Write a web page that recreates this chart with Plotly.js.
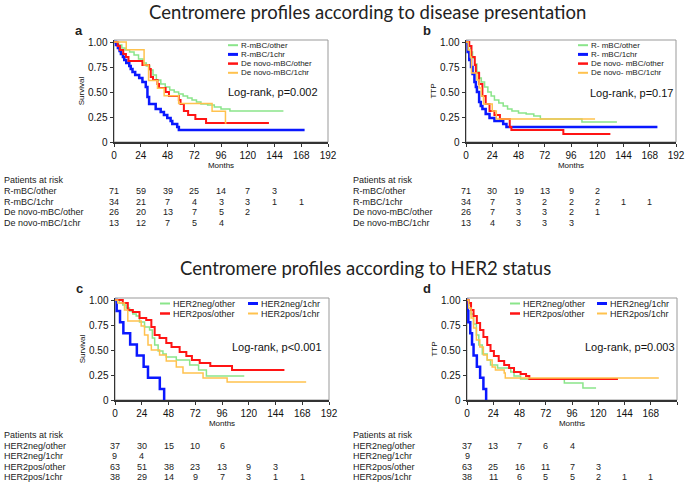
<!DOCTYPE html>
<html>
<head>
<meta charset="utf-8">
<script src="https://cdn.plot.ly/plotly-3.0.1.min.js"></script>
<style>body{margin:0;background:#fff}#graph{width:685px;height:495px}</style>
</head>
<body>
<div id="graph"></div>
<script>
// ---- data (months, survival) ----
// panel a: survival by disease presentation
const aOtherT = [0,4,7,10,14,18,22,26,29,32,35,38,42,46,50,54,58,62,66,70,74,78,84,90,96,104,152];
const aOtherS = [1,0.97,0.94,0.92,0.90,0.87,0.83,0.79,0.76,0.72,0.67,0.62,0.58,0.55,0.52,0.50,0.48,0.46,0.44,0.42,0.40,0.38,0.37,0.35,0.33,0.31,0.31];
const a1chrT = [0,1.8,3.5,5,6.2,8,9.2,11,13.7,15,16.6,19,22.6,25.5,28.5,30,31.5,37.4,41.9,44.8,47.8,50.8,52.3,56.7,58.2,171];
const a1chrS = [1,0.97,0.94,0.91,0.88,0.85,0.82,0.79,0.76,0.73,0.70,0.67,0.64,0.60,0.55,0.45,0.38,0.33,0.30,0.27,0.24,0.21,0.18,0.15,0.12,0.12];
const aNovoOtherT = [0,3.3,5.3,8.3,10.7,13,25.5,31.5,33,35,39,40.4,46.3,49.3,58.2,59.7,62.7,66.5,73,82.6,139];
const aNovoOtherS = [1,0.96,0.92,0.88,0.85,0.81,0.77,0.73,0.65,0.62,0.58,0.54,0.50,0.46,0.42,0.38,0.31,0.27,0.23,0.19,0.19];
const aNovo1chrT = [0,11,27,31,39,45,58,88,100,101];
const aNovo1chrS = [1,0.923,0.769,0.615,0.538,0.462,0.385,0.308,0.19,0.19];

// panel b: TTP by disease presentation
const bOtherT = [0,2,4,6,8,10,12,14,17,20,23,26,30,34,38,42,48,55,62,68,106,138];
const bOtherS = [1,0.96,0.90,0.84,0.78,0.70,0.64,0.60,0.55,0.50,0.46,0.42,0.39,0.36,0.33,0.31,0.29,0.28,0.26,0.23,0.20,0.20];
const b1chrT = [0,1.5,3,4.6,6,7.7,9,10,12,13.5,15,18,21.5,26,34,37,175];
const b1chrS = [1,0.90,0.82,0.75,0.68,0.60,0.55,0.50,0.40,0.36,0.33,0.28,0.24,0.21,0.18,0.15,0.15];
const bNovoOtherT = [0,3,5,8,9,12,15,18,21.5,26,31,40,41.5,89,132];
const bNovoOtherS = [1,0.96,0.85,0.77,0.69,0.58,0.46,0.38,0.31,0.27,0.23,0.15,0.12,0.08,0.08];
const bNovo1chrT = [0,2,4,5,10,12,14,16,24,27.7,118];
const bNovo1chrS = [1,0.92,0.85,0.69,0.62,0.54,0.46,0.38,0.31,0.23,0.23];

// panel c: survival by HER2 status
const cNegOtherT = [0,4,7,10,13,16,19,22,26.5,31,33.5,35.6,38.7,43,46,55,67,75,82,116];
const cNegOtherS = [1,0.97,0.95,0.92,0.89,0.86,0.84,0.78,0.73,0.70,0.62,0.55,0.49,0.46,0.43,0.40,0.35,0.30,0.24,0.24];
const cNeg1chrT = [0,1.5,4.5,7.5,13.6,19.6,25.7,29.6,40.2,44.1];
const cNeg1chrS = [1,0.889,0.778,0.667,0.556,0.444,0.333,0.222,0.111,0];
const cPosOtherT = [0,7,11.5,16,22,28,32.6,35.6,40,46,50.7,58,64,69,76,85.5,105,152];
const cPosOtherS = [1,0.97,0.90,0.88,0.82,0.80,0.73,0.65,0.62,0.57,0.53,0.48,0.44,0.40,0.37,0.34,0.30,0.30];
const cPos1chrT = [0,2.4,8.5,11.5,23.5,26.5,29.6,32.6,40,46,55,61,79,100.6,171.5];
const cPos1chrS = [1,0.97,0.90,0.79,0.74,0.65,0.55,0.50,0.45,0.39,0.33,0.27,0.22,0.18,0.18];

// panel d: TTP by HER2 status
const dNegOtherT = [0,1.5,3.7,6,8.6,10.8,14,18.5,21.5,28,40,43,49,89,106,118];
const dNegOtherS = [1,0.95,0.86,0.76,0.65,0.55,0.46,0.40,0.35,0.32,0.28,0.24,0.21,0.17,0.12,0.12];
const dNeg1chrT = [0,0.6,1.2,3,4.6,6,9,12,15,17.5];
const dNeg1chrS = [1,0.889,0.778,0.667,0.556,0.444,0.333,0.222,0.111,0];
const dPosOtherT = [0,1.5,3.7,6,9,12,15,18.5,21.5,24.6,29,34,38.5,43,49,54,57,138];
const dPosOtherS = [1,0.97,0.90,0.84,0.77,0.70,0.63,0.55,0.49,0.44,0.39,0.35,0.32,0.28,0.26,0.24,0.21,0.21];
const dPos1chrT = [0,1.5,3.7,6,8.6,11.7,15,18.5,23,26,34,35,175.4];
const dPos1chrS = [1,0.92,0.82,0.72,0.60,0.53,0.45,0.40,0.33,0.30,0.27,0.22,0.22];

// names
const topTableNames = ['R-mBC/other','R-mBC/1chr','De novo-mBC/other','De novo-mBC/1chr'];
const aLegendNames = ['R-mBC/other','R-mBC/1chr','De novo-mBC/other','De novo-mBC/1chr'];
const bLegendNames = ['R- mBC/other','R- mBC/1chr','De novo- mBC/other','De novo- mBC/1chr'];
const her2Names = ['HER2neg/other','HER2neg/1chr','HER2pos/other','HER2pos/1chr'];
const pValues = ['Log-rank, p=0.002','Log-rank, p=0.17','Log-rank, p<0.001','Log-rank, p=0.003'];

// patients at risk (every 24 months)
const riskA = [[71,59,39,25,14,7,3],[34,21,7,4,3,3,1,1],[26,20,13,7,5,2],[13,12,7,5,4]];
const riskB = [[71,30,19,13,9,2],[34,7,3,2,2,2,1,1],[26,7,3,3,2,1],[13,4,3,3,3]];
const riskC = [[37,30,15,10,6],[9,4],[63,51,38,23,13,9,3],[38,29,14,9,7,3,1,1]];
const riskD = [[37,13,7,6,4],[9],[63,25,16,11,7,3],[38,11,6,5,5,2,1,1]];

const monthTicks = [0,24,48,72,96,120,144,168,192];

// ---- styling ----
const W = 685, H = 495;
const px = x => x / W;
const py = y => 1 - y / H;
const colors = ['#8ae58a','#0a18ff','#ff1414','#ffc24e'];
const widths = [1.5, 2.5, 2, 1.5];
const ARIAL = 'Arial, "Liberation Sans", sans-serif';
const TITLEFONT = 'Lato, "Open Sans", sans-serif';

const panels = [
  {ax:'', curves:[[aOtherT,aOtherS],[a1chrT,a1chrS],[aNovoOtherT,aNovoOtherS],[aNovo1chrT,aNovo1chrS]]},
  {ax:'2', curves:[[bOtherT,bOtherS],[b1chrT,b1chrS],[bNovoOtherT,bNovoOtherS],[bNovo1chrT,bNovo1chrS]]},
  {ax:'3', curves:[[cNegOtherT,cNegOtherS],[cNeg1chrT,cNeg1chrS],[cPosOtherT,cPosOtherS],[cPos1chrT,cPos1chrS]]},
  {ax:'4', curves:[[dNegOtherT,dNegOtherS],[dNeg1chrT,dNeg1chrS],[dPosOtherT,dPosOtherS],[dPos1chrT,dPos1chrS]]}
];

let data = [];
panels.forEach(function (p) {
  p.curves.forEach(function (c, i) {
    data.push({
      x: c[0], y: c[1], type: 'scatter', mode: 'lines',
      line: {shape: 'hv', color: colors[i], width: widths[i]},
      xaxis: 'x' + p.ax, yaxis: 'y' + p.ax, showlegend: false, hoverinfo: 'skip'
    });
  });
});

function xAx(dom, anchor) {
  return {
    domain: dom, anchor: anchor, range: [0, 192], tickvals: monthTicks,
    ticks: 'outside', ticklen: 3, tickcolor: '#333', showline: true, linecolor: '#333', linewidth: 1.5,
    showgrid: false, zeroline: false, tickfont: {family: ARIAL, size: 10, color: '#111'},
    title: {text: 'Months', font: {family: ARIAL, size: 8, color: '#111'}, standoff: 3}, fixedrange: true
  };
}
function yAx(dom, anchor, label) {
  return {
    domain: dom, anchor: anchor, range: [0, 1.02], tickvals: [0,0.25,0.5,0.75,1],
    ticktext: ['0','0.25','0.50','0.75','1.00'],
    ticks: 'outside', ticklen: 3, tickcolor: '#333', showline: true, linecolor: '#333', linewidth: 1.5,
    showgrid: false, zeroline: false, tickfont: {family: ARIAL, size: 10, color: '#111'},
    title: {text: label, font: {family: ARIAL, size: 8, color: '#111'}, standoff: 2}, fixedrange: true
  };
}

const topY = [py(142), py(40)];
const botY = [py(400), py(298)];

let annotations = [];
let shapes = [];

// paper-anchored text helper (explicit anchors, "auto" snaps to edges)
function paperText(text, x, y, size, xanchor, family) {
  annotations.push({text: text, xref: 'paper', yref: 'paper', x: px(x), y: py(y),
    xanchor: xanchor || 'center', yanchor: 'middle', showarrow: false, borderpad: 0,
    font: {family: family || ARIAL, size: size, color: '#222'}});
}

// main titles
paperText('Centromere profiles according to disease presentation', 367, 12, 18.5, 'center', TITLEFONT);
paperText('Centromere profiles according to HER2 status', 366, 268, 18.5, 'center', TITLEFONT);

// panel letters
[['a',79,31],['b',427,31],['c',79,288],['d',427,288]].forEach(function (l) {
  paperText('<b>' + l[0] + '</b>', l[1], l[2], 13);
});

// log-rank texts
const pPos = [[143,0.50],[151,0.49],[145,0.53],[149,0.53]];
panels.forEach(function (p, k) {
  annotations.push({text: pValues[k], xref: 'x' + p.ax, yref: 'y' + p.ax, x: pPos[k][0], y: pPos[k][1],
    xanchor: 'center', yanchor: 'middle', showarrow: false, font: {family: ARIAL, size: 11, color: '#111'}});
  // light frame on top / right
  shapes.push({type: 'rect', xref: 'x' + p.ax + ' domain', yref: 'y' + p.ax + ' domain',
    x0: 0, x1: 1, y0: 0, y1: 1, line: {color: '#999', width: 1}, layer: 'below'});
});

// legends (drawn by hand, entries are tightly packed in the original)
function legendItem(name, i, x, y, size) {
  shapes.push({type: 'line', xref: 'paper', yref: 'paper', x0: px(x), x1: px(x + 10), y0: py(y), y1: py(y),
    line: {color: colors[i], width: widths[i] + 0.5}});
  paperText(name, x + 12, y, size, 'left');
}
const legRowsTop = [45.2, 54.4, 63.6, 72.8];
aLegendNames.forEach((n, i) => legendItem(n, i, 228, legRowsTop[i], 8));
bLegendNames.forEach((n, i) => legendItem(n, i, 578, legRowsTop[i], 8));
const legGrid = [[0,0],[1,0],[0,1],[1,1]];
her2Names.forEach(function (n, i) {
  legendItem(n, i, [160, 248][legGrid[i][0]], [303.5, 313.5][legGrid[i][1]], 9);
  legendItem(n, i, [510, 597][legGrid[i][0]], [303.5, 313.5][legGrid[i][1]], 9);
});

// patients-at-risk tables
function riskTable(labels, rows, labelX, xref, headerY, step) {
  paperText('Patients at risk', labelX, headerY, 9, 'left');
  rows.forEach(function (r, i) {
    const yPix = headerY + step * (i + 1);
    paperText(labels[i], labelX, yPix, 9, 'left');
    r.forEach(function (v, j) {
      annotations.push({text: String(v), xref: xref, yref: 'paper', x: monthTicks[j], y: py(yPix),
        xanchor: 'center', yanchor: 'middle', showarrow: false, borderpad: 0,
        font: {family: ARIAL, size: 9, color: '#222'}});
    });
  });
}
riskTable(topTableNames, riskA, 3, 'x', 180, 10.8);
riskTable(topTableNames, riskB, 352, 'x2', 180, 10.8);
riskTable(her2Names, riskC, 3, 'x3', 435, 10.6);
riskTable(her2Names, riskD, 352, 'x4', 435, 10.6);

const layout = {
  width: W, height: H, autosize: false, showlegend: false,
  margin: {l: 0, r: 0, t: 0, b: 0},
  paper_bgcolor: '#fff', plot_bgcolor: '#fff',
  xaxis: xAx([px(114), px(328)], 'y'), yaxis: yAx(topY, 'x', 'Survival'),
  xaxis2: xAx([px(466), px(676)], 'y2'), yaxis2: yAx(topY, 'x2', 'TTP'),
  xaxis3: xAx([px(115), px(329)], 'y3'), yaxis3: yAx(botY, 'x3', 'Survival'),
  xaxis4: xAx([px(467), px(677)], 'y4'), yaxis4: yAx(botY, 'x4', 'TTP'),
  annotations: annotations, shapes: shapes
};

Plotly.newPlot('graph', data, layout, {displayModeBar: false, staticPlot: true});
</script>
</body>
</html>
